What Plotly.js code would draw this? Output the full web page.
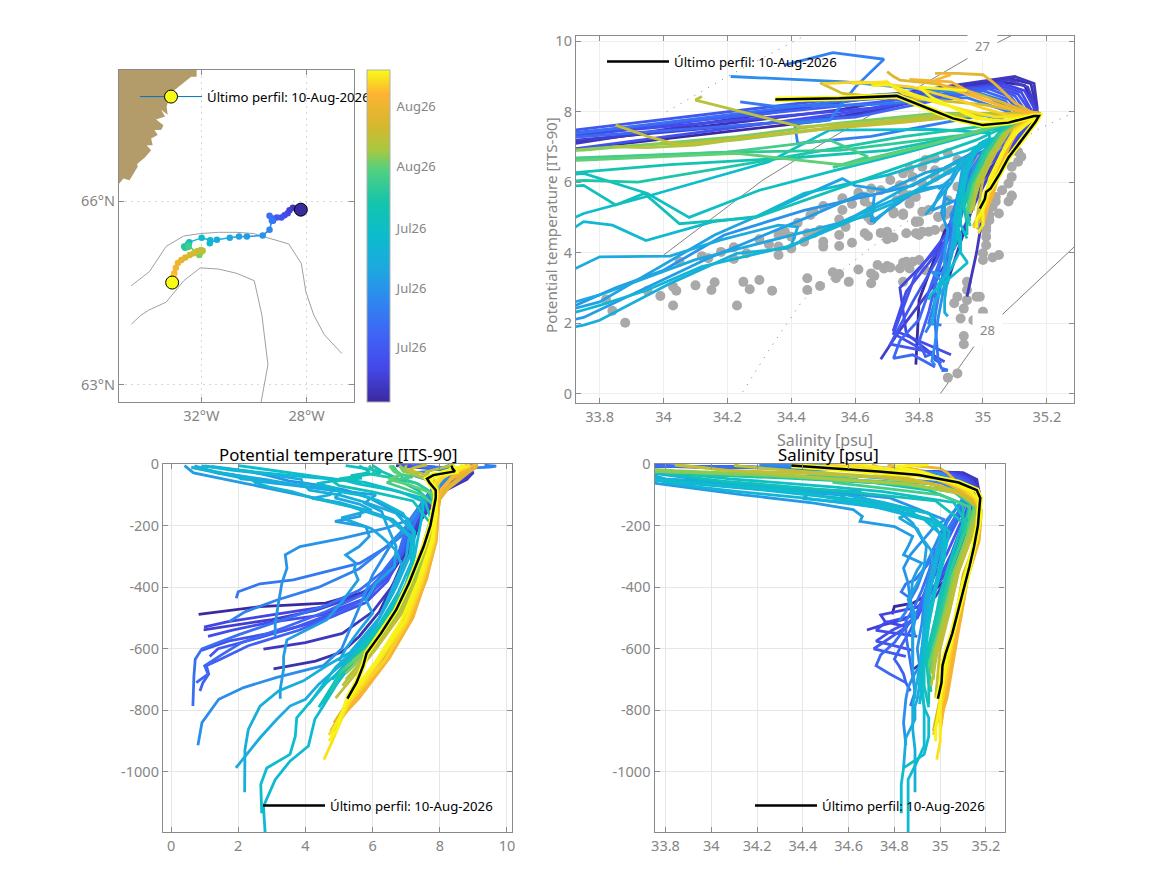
<!DOCTYPE html>
<html>
<head>
<meta charset="utf-8">
<script src="https://cdn.plot.ly/plotly-3.0.1.min.js"></script>
<style>html,body{margin:0;padding:0;background:#fff}</style>
</head>
<body>
<div id="graph" style="width:1167px;height:875px"></div>
<script>
const legendText = 'Último perfil: 10-Aug-2026';

// colormap, bottom to top of the colorbar
const colorStops = [0, 0.1, 0.2, 0.3, 0.4, 0.5, 0.6, 0.7, 0.76, 0.83, 0.93, 1];
const colorValues = ['#3a2a9e', '#4447e8', '#3f63f5', '#2f85f0', '#1da8e0', '#0cbcce',
  '#14c4ac', '#52d080', '#a8c840', '#d4b82e', '#fdb432', '#f9fb14'];

const cbTickDays = [5.05, 10.63, 16.2, 21.95, 27.56];
const cbTickText = ['Jul26', 'Jul26', 'Jul26', 'Aug26', 'Aug26'];

// map
const coastLon = [-32.18, -32.18, -32.39, -32.71, -33.03, -33.22, -33.32, -33.28, -33.53, -33.38, -33.72, -33.44, -33.53, -33.78, -33.66, -33.91, -33.85, -34.08, -33.91, -34.13, -34.48, -34.63, -34.5, -34.42, -34.73, -34.96, -35.11, -35.3, -35.3, -32.18];
const coastLat = [68.3, 68.03, 68.03, 67.92, 67.81, 67.70, 67.54, 67.41, 67.49, 67.38, 67.33, 67.24, 67.16, 67.16, 67.08, 67.02, 66.91, 66.91, 66.83, 66.72, 66.59, 66.64, 66.75, 66.56, 66.34, 66.37, 66.29, 66.26, 68.3, 68.3];
const iso1Lon = [-34.66, -33.97, -33.34, -32.67, -32.04, -31.34, -30.65, -30.01, -29.63, -28.68, -28.2, -28.03, -27.73, -27.33, -26.66];
const iso1Lat = [64.62, 64.85, 65.26, 65.43, 65.47, 65.49, 65.49, 65.47, 65.42, 65.30, 64.98, 64.52, 64.14, 63.82, 63.51];
const iso2Lon = [-34.66, -34.32, -34.0, -33.34, -32.67, -32.04, -31.34, -30.65, -29.99, -29.7, -29.47, -29.78];
const iso2Lat = [63.99, 64.13, 64.22, 64.35, 64.70, 64.91, 64.89, 64.82, 64.70, 64.14, 63.33, 62.6];

const trackDay = [0, 0.7, 1.4, 2.1, 2.8, 3.5, 4.2, 5, 5.8, 6.6, 7.4, 8.2, 9.5, 10.5, 11.3, 12, 12.8, 13.5, 14.2, 14.9, 15.7, 16.6, 17.4, 18.1, 18.8, 19.5, 20.3, 21, 22.5, 23, 24, 24.7, 25, 25.5, 26, 26.5, 27, 27.6, 28.2, 28.8, 29.4, 30, 31];
const trackLon = [-28.22, -28.37, -28.52, -28.65, -28.72, -28.84, -28.96, -29.13, -29.28, -29.32, -29.41, -29.32, -29.41, -29.67, -30.27, -30.57, -30.92, -31.41, -31.68, -31.66, -31.99, -32.46, -32.48, -32.52, -32.65, -32.62, -32.5, -32.48, -32.08, -32.03, -31.95, -32.02, -32.16, -32.29, -32.44, -32.61, -32.76, -32.89, -32.97, -33.03, -33.06, -33.09, -33.11];
const trackLat = [65.86, 65.87, 65.89, 65.85, 65.80, 65.77, 65.73, 65.73, 65.68, 65.72, 65.76, 65.68, 65.53, 65.44, 65.42, 65.42, 65.40, 65.37, 65.31, 65.36, 65.40, 65.33, 65.29, 65.29, 65.26, 65.24, 65.25, 65.27, 65.12, 65.16, 65.19, 65.2, 65.18, 65.15, 65.12, 65.08, 65.04, 64.99, 64.91, 64.82, 64.77, 64.71, 64.67];

// sigma lines on the T-S panel
const sig27Sal = [34.0, 34.311, 34.53, 34.955, 35.043, 35.096, 35.13];
const sig27Tmp = [3.93, 6.06, 7.28, 9.53, 9.95, 10.18, 10.35];
const sig28Sal = [34.867, 34.977, 35.058, 35.29];
const sig28Tmp = [0.0, 1.40, 2.22, 4.2];
const sigLowSal = [34.248, 34.33, 34.436, 34.693, 34.80, 35.168, 35.29];
const sigLowTmp = [0.05, 1.23, 2.65, 4.44, 5.12, 7.48, 8.0];
const sigHighSal = [34.01, 34.2, 34.44, 34.5];
const sigHighTmp = [8.0, 9.0, 10.15, 10.4];

// climatology dots on the T-S panel
const climSal = [33.88, 33.84, 33.82, 33.95, 33.99, 34.03, 34.03, 34.04, 34.05, 34.10, 34.12, 34.14, 34.16, 34.15, 34.18, 34.22, 34.22, 34.23, 34.25, 34.26, 34.27, 34.30, 34.30, 34.33, 34.34, 34.36, 34.36, 34.36, 34.38, 34.40, 34.40, 34.42, 34.44, 34.45, 34.45, 34.45, 34.49, 34.46, 34.47, 34.47, 34.49, 34.50, 34.50, 34.50, 34.53, 34.54, 34.55, 34.58, 34.55, 34.56, 34.59, 34.56, 34.55, 34.55, 34.57, 34.59, 34.61, 34.63, 34.63, 34.61, 34.65, 34.65, 34.66, 34.67, 34.63, 34.64, 34.64, 34.65, 34.69, 34.70, 34.71, 34.74, 34.75, 34.76, 34.78, 34.80, 34.77, 34.75, 34.82, 34.68, 34.70, 34.70, 34.72, 34.76, 34.79, 34.80, 34.81, 34.83, 34.85, 34.88, 34.89, 34.80, 34.79, 34.86, 34.89, 34.91, 34.92, 34.75, 34.72, 34.73, 34.83, 34.75, 34.77, 34.89, 34.94, 34.99, 35.01, 35.01, 35.0, 35.03, 35.05, 35.0, 35.09, 35.08, 35.04, 35.02, 35.01, 34.86, 34.88, 35.0, 34.95, 34.95, 34.94, 34.91, 34.92, 34.95, 34.98, 34.99, 35.0, 34.93, 34.97, 34.94, 34.94, 34.89, 34.92, 35.11, 35.12, 35.11, 35.09, 35.09, 35.08, 35.06, 35.05, 35.03, 35.06, 35.01, 34.98, 34.97, 34.95, 34.92, 34.89, 34.85, 34.82, 34.81, 34.85, 34.89, 34.77, 34.75, 34.78, 34.81, 34.85, 34.71, 34.68, 34.74, 34.65, 35.01, 34.95, 34.92, 35.04, 35.09, 34.75, 34.79, 34.77, 34.72, 34.75, 34.65, 34.64, 34.65, 34.90, 34.91, 34.88, 34.86, 34.81, 34.79, 35.03, 35.05, 35.02, 35.01];
const climTmp = [2.01, 2.35, 2.67, 2.92, 2.77, 2.5, 3.03, 2.92, 3.74, 3.07, 3.9, 3.84, 3.16, 2.94, 4.02, 4.15, 3.82, 2.5, 3.17, 3.98, 2.96, 3.22, 4.38, 4.23, 2.92, 3.93, 4.17, 4.5, 4.59, 4.45, 4.12, 4.85, 4.31, 4.55, 3.27, 2.94, 3.05, 5.07, 5.16, 4.55, 4.64, 5.32, 4.31, 4.17, 3.44, 3.27, 3.39, 3.17, 4.94, 5.54, 5.38, 5.21, 4.5, 4.19, 4.73, 4.28, 5.7, 5.59, 5.45, 3.52, 3.41, 3.13, 3.34, 3.65, 4.55, 4.47, 5.07, 4.92, 3.55, 3.62, 3.58, 3.55, 3.71, 3.74, 3.74, 3.79, 3.55, 3.17, 3.5, 4.56, 4.59, 4.38, 4.43, 4.55, 4.55, 4.5, 4.59, 4.59, 4.64, 4.69, 4.59, 4.88, 4.88, 5.02, 5.11, 5.11, 5.11, 5.07, 5.16, 5.49, 5.21, 5.87, 5.63, 5.49, 5.68, 4.78, 4.45, 4.21, 3.79, 3.86, 3.93, 4.88, 5.62, 5.45, 5.45, 5.07, 4.73, 3.84, 3.84, 3.98, 3.17, 2.94, 2.41, 2.56, 2.75, 2.65, 2.75, 2.75, 2.32, 2.13, 2.08, 1.63, 1.4, 0.45, 0.57, 6.86, 6.72, 6.58, 6.44, 6.15, 5.96, 5.77, 7.19, 7.05, 7.0, 6.82, 6.72, 6.58, 6.44, 6.63, 6.82, 6.67, 6.63, 6.44, 6.34, 6.34, 6.39, 6.25, 6.15, 5.96, 6.15, 6.06, 5.77, 5.91, 5.82, 6.15, 6.15, 5.87, 5.58, 5.6, 5.68, 5.58, 5.39, 5.11, 5.11, 5.3, 5.01, 4.92, 5.2, 5.06, 5.06, 5.01, 5.16, 4.87, 5.3, 5.11, 4.92, 4.63];

// profiles, oldest first: day, depth [m], potential temperature, salinity
const profileDay = [0, 0.7, 1.4, 2.1, 2.8, 3.5, 4.2, 5, 5.8, 6.6, 7.4, 8.2, 9, 10, 10.6, 11.3, 12, 12.4, 12.8, 13.5, 14.2, 15, 15.7, 16.6, 17.4, 18.1, 19, 20, 21, 22, 22.6, 23, 23.7, 24.3, 24.9, 25.5, 26.5, 27.2, 28, 28.6, 29.7, 30.2, 30.6, 30.8];
const profileDepth = [
  [-5, -15, -28, -50, -80, -105, -181, -289, -365, -414, -452, -463, -488],
  [-5, -15, -28, -50, -90, -180, -290, -380, -480, -560, -610, -640, -665],
  [-5, -15, -28, -50, -90, -180, -290, -380, -480, -550, -580, -601],
  [-5, -15, -30, -50, -90, -180, -290, -370, -430, -475, -505, -525, -539],
  [-5, -15, -30, -50, -90, -180, -280, -360, -420, -465, -490, -512, -530],
  [-5, -15, -30, -50, -90, -180, -280, -370, -440, -490, -515, -540, -560],
  [-5, -15, -30, -50, -90, -190, -290, -380, -450, -500, -540, -575, -605],
  [-5, -15, -30, -50, -90, -190, -290, -370, -440, -490, -530, -565, -600, -625],
  [-5, -15, -30, -50, -90, -190, -280, -360, -430, -490, -540, -590, -634, -655, -682, -710, -737],
  [-5, -15, -30, -50, -90, -190, -280, -360, -425, -480, -530, -580, -620, -655, -682, -710],
  [-5, -15, -30, -50, -90, -190, -280, -350, -410, -460, -510, -555, -600, -634, -690, -740, -786],
  [-4, -10, -20, -35, -60, -110, -203, -257, -322, -376, -389, -415, -436],
  [-4, -7, -10, -14, -18, -24, -30, -40, -60, -100, -180, -260, -340, -400, -440, -480, -512],
  [-3, -8, -15, -30, -60, -110, -190, -270, -360, -440, -520, -600, -655, -693, -726, -764, -840, -913],
  [-8, -25, -40, -55, -70, -85, -110, -181, -208, -241, -268, -295, -338, -387, -450, -520, -560],
  [-5, -29, -62, -100, -127, -148, -170, -186, -203, -235, -268, -295, -322, -344, -376, -441, -506, -544, -571, -625, -666, -732, -762],
  [-6, -30, -56, -80, -100, -115, -127, -154, -192, -268, -333, -387, -441, -485, -540, -600, -640],
  [-8, -30, -50, -70, -90, -110, -130, -150, -175, -210, -240, -280, -340, -420, -520, -620, -700],
  [-6, -20, -35, -50, -60, -72, -85, -100, -112, -125, -150, -180, -230, -300, -400, -500, -600, -666, -715, -764, -786, -829, -889, -987],
  [-10, -30, -38, -48, -58, -70, -85, -100, -125, -160, -220, -300, -400, -500, -612, -655, -704, -737, -786, -862, -927, -1066],
  [-12, -35, -45, -60, -75, -90, -110, -140, -180, -240, -320, -420, -520, -600, -660, -720, -780],
  [-6, -25, -42, -50, -56, -64, -78, -90, -102, -120, -160, -220, -320, -420, -530, -645, -715, -786, -829, -916, -965, -1025, -1112, -1195],
  [-5, -25, -40, -52, -65, -85, -110, -150, -210, -300, -410, -520, -600, -655, -710, -791, -824, -884, -943, -987, -1041, -1134],
  [-5, -18, -28, -38, -48, -60, -75, -90, -125, -200, -320, -440, -560, -650, -720, -790],
  [-6, -18, -28, -38, -46, -56, -70, -90, -120, -190, -300, -420, -540, -640, -720, -780],
  [-5, -15, -25, -35, -45, -60, -85, -130, -220, -340, -460, -570, -650, -710],
  [-5, -14, -24, -34, -46, -62, -85, -130, -220, -340, -470, -590, -670, -740],
  [-5, -14, -24, -36, -48, -64, -90, -135, -220, -340, -470, -590, -680],
  [-5, -14, -24, -34, -42, -50, -60, -78, -100, -140, -230, -350, -470, -590, -670],
  [-5, -14, -24, -36, -50, -68, -95, -140, -230, -350, -480, -600, -660],
  [-5, -14, -24, -36, -50, -65, -95, -140, -230, -350, -480, -600, -640],
  [-5, -14, -22, -34, -48, -64, -95, -140, -230, -350, -480, -600, -680],
  [-4, -12, -22, -34, -48, -64, -95, -145, -230, -350, -480, -600, -700],
  [-2, -5, -12, -26, -42, -62, -95, -145, -230, -350, -480, -600, -720],
  [-3, -10, -20, -30, -44, -64, -95, -145, -230, -350, -480, -600, -760],
  [-3, -8, -16, -28, -45, -70, -110, -150, -240, -360, -490, -620, -760, -867],
  [-3, -7, -12, -22, -40, -70, -110, -150, -240, -360, -490, -620, -750, -840],
  [-3, -8, -14, -28, -50, -80, -115, -155, -240, -370, -500, -630, -760, -870],
  [-3, -8, -18, -32, -50, -80, -115, -155, -250, -370, -500, -630, -760, -830],
  [-3, -8, -18, -32, -50, -80, -115, -155, -250, -380, -510, -640, -770, -860],
  [-3, -8, -16, -28, -45, -70, -110, -155, -250, -380, -510, -640, -770, -880],
  [-3, -8, -14, -24, -40, -60, -85, -120, -160, -250, -380, -510, -640, -770, -900, -960],
  [-3, -8, -16, -28, -42, -60, -85, -120, -160, -250, -380, -510, -640, -770, -880],
  [-3, -7, -14, -26, -40, -58, -85, -120, -160, -250, -380, -510, -640, -770, -860, -900]
];
const profileTemp = [
  [6.7, 7.75, 8.85, 8.75, 8.2, 7.75, 7.35, 6.95, 6.5, 5.8, 4.6, 2.65, 0.82],
  [6.9, 8.05, 8.95, 8.8, 8.0, 7.4, 7.0, 6.65, 6.2, 5.6, 5.1, 4.3, 3.05],
  [6.85, 8.2, 9.0, 8.8, 8.1, 7.45, 7.05, 6.7, 6.0, 5.1, 4.0, 2.75],
  [7.05, 7.9, 8.9, 8.7, 8.0, 7.4, 6.9, 6.4, 5.5, 4.3, 3.0, 1.8, 0.97],
  [7.1, 8.35, 8.8, 8.6, 7.95, 7.35, 6.9, 6.5, 5.8, 4.5, 3.0, 1.7, 0.98],
  [7.25, 8.1, 8.75, 8.55, 7.9, 7.3, 6.9, 6.45, 5.7, 4.5, 2.9, 1.8, 1.1],
  [6.8, 8.0, 8.7, 8.5, 7.85, 7.25, 6.85, 6.45, 5.8, 4.7, 3.4, 1.7, 0.9],
  [7.35, 8.45, 8.7, 8.45, 7.8, 7.2, 6.9, 6.4, 5.7, 4.7, 3.7, 2.6, 1.4, 1.15],
  [7.25, 8.25, 8.65, 8.4, 7.8, 7.2, 6.9, 6.4, 5.9, 4.9, 3.8, 2.3, 1.47, 1.05, 1.12, 0.95, 0.86],
  [7.2, 7.85, 8.6, 8.35, 7.75, 7.15, 6.85, 6.3, 5.7, 4.6, 3.4, 2.1, 1.5, 1.0, 1.1, 0.75],
  [7.3, 8.3, 8.55, 8.3, 7.7, 7.05, 6.8, 6.3, 5.6, 4.6, 3.2, 2.0, 0.92, 0.72, 0.68, 0.66, 0.65],
  [8.28, 8.15, 8.2, 8.4, 8.0, 7.6, 7.2, 6.6, 5.62, 3.64, 2.65, 2.0, 1.94],
  [9.33, 9.68, 9.49, 8.7, 7.76, 7.67, 7.1, 7.3, 7.9, 7.65, 7.2, 6.5, 5.6, 4.4, 3.2, 2.2, 1.73],
  [9.0, 8.85, 8.6, 8.5, 8.1, 7.6, 7.1, 6.5, 6.0, 5.7, 5.4, 5.08, 4.53, 3.15, 2.16, 1.42, 0.92, 0.8],
  [1.2, 2.4, 3.0, 3.5, 4.5, 5.2, 5.9, 7.1, 6.4, 5.13, 3.84, 3.4, 3.45, 3.3, 3.2, 3.1, 3.1],
  [0.4, 0.67, 2.16, 3.84, 5.0, 5.67, 5.62, 4.88, 5.8, 5.9, 5.6, 5.2, 5.5, 5.45, 5.57, 5.13, 4.63, 3.94, 3.45, 3.35, 3.35, 3.25, 3.25],
  [0.7, 1.4, 2.6, 4.5, 6.1, 5.9, 5.77, 6.27, 6.4, 6.7, 6.65, 6.1, 5.8, 6.0, 5.6, 5.2, 5.0],
  [0.7, 1.5, 2.8, 3.8, 5.07, 4.88, 5.6, 5.97, 5.07, 5.97, 6.3, 6.7, 6.9, 6.6, 6.1, 5.4, 4.8],
  [1.0, 1.8, 3.0, 3.88, 3.9, 4.36, 4.78, 4.73, 4.2, 5.0, 5.8, 6.6, 7.1, 7.0, 6.6, 6.2, 5.6, 4.93, 4.4, 4.0, 3.54, 3.15, 2.65, 1.93],
  [0.6, 1.4, 1.94, 2.08, 3.12, 3.98, 4.12, 5.0, 5.8, 6.7, 7.2, 7.1, 6.7, 6.2, 5.33, 4.63, 3.94, 3.2, 2.65, 2.3, 2.2, 2.19],
  [0.62, 1.9, 2.37, 2.5, 2.93, 3.6, 4.2, 5.4, 6.5, 7.15, 7.15, 6.75, 6.2, 5.5, 4.9, 4.5, 4.1],
  [0.9, 2.4, 4.0, 4.88, 4.78, 4.34, 4.88, 5.02, 5.68, 6.2, 6.9, 7.25, 7.2, 6.9, 6.2, 5.4, 4.93, 4.53, 4.28, 4.09, 3.54, 3.1, 2.75, 2.8],
  [2.0, 3.4, 4.3, 5.11, 5.6, 6.58, 7.48, 7.5, 7.4, 7.25, 6.95, 6.35, 5.8, 5.2, 4.63, 4.0, 3.74, 3.7, 3.54, 2.85, 2.67, 2.7],
  [5.2, 6.0, 6.25, 5.68, 5.0, 5.77, 6.34, 6.82, 7.57, 7.8, 7.4, 6.8, 6.0, 5.2, 4.8, 4.4],
  [5.6, 5.8, 5.91, 5.35, 5.68, 4.82, 5.0, 5.96, 7.2, 7.7, 7.4, 6.85, 6.1, 5.3, 4.85, 4.5],
  [6.0, 6.15, 6.29, 6.5, 6.7, 6.9, 7.35, 7.8, 7.7, 7.35, 6.75, 6.0, 5.3, 4.9],
  [5.9, 5.95, 6.05, 6.0, 6.63, 7.29, 7.65, 7.85, 7.7, 7.35, 6.75, 5.9, 5.1, 4.75],
  [6.55, 6.6, 6.67, 6.85, 6.9, 7.35, 7.7, 7.9, 7.7, 7.35, 6.8, 6.0, 5.0],
  [6.6, 6.65, 6.72, 6.85, 7.2, 6.72, 6.42, 6.9, 7.45, 7.9, 7.7, 7.35, 6.8, 6.0, 5.1],
  [6.5, 6.55, 6.63, 6.82, 6.48, 7.1, 7.76, 7.9, 7.7, 7.35, 6.75, 5.9, 5.2],
  [6.8, 6.85, 6.91, 7.29, 7.67, 7.95, 7.95, 7.9, 7.7, 7.35, 6.75, 5.85, 5.4],
  [6.8, 6.9, 7.0, 7.2, 7.55, 7.85, 7.95, 7.9, 7.72, 7.38, 6.8, 5.95, 5.2],
  [7.0, 6.98, 7.05, 7.3, 7.55, 7.9, 7.95, 7.9, 7.72, 7.4, 6.85, 6.0, 5.2],
  [8.43, 8.33, 8.1, 7.57, 7.76, 7.9, 7.95, 7.9, 7.75, 7.42, 6.85, 6.0, 5.1],
  [7.62, 7.3, 7.05, 7.45, 7.7, 7.88, 7.95, 7.9, 7.78, 7.45, 6.9, 6.1, 4.9],
  [8.82, 8.7, 8.52, 8.4, 8.33, 8.2, 8.0, 7.95, 7.85, 7.55, 7.0, 6.25, 5.35, 4.75],
  [9.14, 9.0, 8.9, 8.8, 8.6, 8.3, 8.0, 7.95, 7.88, 7.6, 7.1, 6.4, 5.4, 4.85],
  [9.09, 9.09, 9.05, 8.85, 8.6, 8.25, 8.0, 7.95, 7.9, 7.62, 7.15, 6.45, 5.5, 4.8],
  [8.92, 8.9, 8.85, 8.6, 8.35, 8.1, 7.95, 7.95, 7.9, 7.6, 7.2, 6.5, 5.6, 5.0],
  [9.05, 8.9, 8.7, 8.5, 8.3, 8.05, 7.95, 7.9, 7.85, 7.55, 7.1, 6.4, 5.45, 4.8],
  [8.8, 8.85, 8.7, 8.35, 8.1, 7.9, 7.9, 7.9, 7.85, 7.5, 7.05, 6.35, 5.35, 4.7],
  [8.8, 8.85, 8.7, 8.52, 8.05, 7.85, 7.85, 7.85, 7.88, 7.8, 7.45, 7.0, 6.2, 5.3, 4.8, 4.55],
  [8.74, 8.76, 8.5, 8.15, 7.85, 7.7, 7.8, 7.9, 7.9, 7.8, 7.4, 6.95, 6.15, 5.25, 4.75],
  [8.6, 8.7, 8.4, 8.05, 7.8, 7.75, 7.85, 7.9, 7.9, 7.75, 7.35, 6.85, 6.1, 5.2, 4.95, 4.7]
];
const profileSal = [
  [33.5, 34.5, 35.05, 35.13, 35.16, 35.16, 35.13, 35.08, 35.04, 34.97, 34.88, 34.8, 34.79],
  [33.5, 34.55, 35.08, 35.15, 35.17, 35.14, 35.09, 35.05, 35.0, 34.98, 34.96, 34.93, 34.885],
  [33.55, 34.5, 35.1, 35.16, 35.17, 35.14, 35.1, 35.06, 35.02, 35.0, 34.98, 34.95],
  [33.55, 34.6, 35.08, 35.14, 35.17, 35.13, 35.08, 35.03, 34.98, 34.92, 34.84, 34.74, 34.68],
  [33.55, 34.62, 35.06, 35.13, 35.17, 35.12, 35.07, 35.02, 34.96, 34.9, 34.74, 34.76, 34.86],
  [33.6, 34.65, 35.05, 35.12, 35.16, 35.11, 35.06, 35.0, 34.93, 34.9, 34.76, 34.72, 34.9],
  [33.6, 34.6, 35.04, 35.11, 35.16, 35.1, 35.05, 34.99, 34.93, 34.9, 34.79, 34.72, 34.88],
  [33.6, 34.62, 35.03, 35.1, 35.15, 35.09, 35.03, 34.97, 34.94, 34.9, 34.85, 34.78, 34.71, 34.85],
  [33.55, 34.65, 35.02, 35.09, 35.14, 35.07, 35.01, 34.97, 34.94, 34.9, 34.87, 34.83, 34.8, 34.82, 34.84, 34.85, 34.87],
  [33.6, 34.6, 35.0, 35.08, 35.14, 35.06, 35.0, 34.96, 34.93, 34.9, 34.85, 34.8, 34.74, 34.72, 34.78, 34.85],
  [33.65, 34.55, 34.98, 35.07, 35.13, 35.05, 34.98, 34.95, 34.92, 34.89, 34.85, 34.85, 34.86, 34.87, 34.88, 34.89, 34.87],
  [34.24, 34.35, 34.65, 34.95, 35.08, 35.12, 35.04, 35.0, 34.95, 34.89, 34.85, 34.83, 34.87],
  [34.38, 34.53, 34.69, 34.6, 34.52, 34.41, 34.42, 34.65, 35.0, 35.12, 35.03, 34.98, 34.93, 34.9, 34.87, 34.85, 34.82],
  [34.21, 34.57, 34.85, 35.0, 35.08, 35.1, 35.03, 34.99, 34.95, 34.93, 34.92, 34.9, 34.91, 34.88, 34.86, 34.85, 34.84, 34.85],
  [32.8, 33.7, 33.85, 34.0, 34.19, 34.44, 34.78, 35.02, 34.97, 34.93, 34.9, 34.87, 34.84, 34.86, 34.87, 34.88, 34.89],
  [32.5, 33.0, 33.75, 34.14, 34.45, 34.62, 34.66, 34.65, 34.8, 34.88, 34.86, 34.84, 34.92, 34.9, 34.88, 34.87, 34.89, 34.88, 34.88, 34.88, 34.88, 34.89, 34.89],
  [32.6, 33.3, 33.8, 34.16, 34.56, 34.6, 34.7, 34.82, 34.88, 34.94, 34.93, 34.9, 34.86, 34.89, 34.88, 34.88, 34.88],
  [32.6, 33.3, 33.8, 34.1, 34.65, 34.66, 34.75, 34.9, 34.82, 34.9, 34.92, 34.96, 34.97, 34.94, 34.93, 34.92, 34.91],
  [32.6, 33.2, 33.6, 33.8, 34.02, 34.18, 34.36, 34.42, 34.4, 34.59, 34.8, 34.96, 35.0, 34.98, 34.95, 34.94, 34.92, 34.92, 34.91, 34.9, 34.89, 34.89, 34.85, 34.84],
  [32.5, 33.4, 33.75, 33.8, 34.02, 34.23, 34.385, 34.59, 34.75, 34.95, 35.02, 34.99, 34.96, 34.94, 34.92, 34.91, 34.9, 34.89, 34.88, 34.88, 34.89, 34.89],
  [32.7, 33.55, 33.75, 33.8, 33.947, 34.12, 34.4, 34.72, 34.93, 35.02, 35.0, 34.97, 34.95, 34.93, 34.92, 34.92, 34.91],
  [32.6, 33.2, 33.6, 33.75, 33.84, 33.945, 34.155, 34.29, 34.44, 34.7, 34.95, 35.04, 35.01, 34.97, 34.94, 34.92, 34.91, 34.93, 34.93, 34.93, 34.9, 34.86, 34.86, 34.86],
  [32.6, 33.2, 33.55, 33.75, 33.95, 34.33, 34.52, 34.85, 35.02, 35.02, 34.98, 34.95, 34.94, 34.93, 34.92, 34.93, 34.95, 34.95, 34.93, 34.84, 34.83, 34.83],
  [33.2, 33.5, 33.75, 33.95, 34.08, 34.3, 34.54, 34.75, 35.06, 35.12, 35.05, 35.0, 34.96, 34.93, 34.93, 34.95],
  [33.3, 33.55, 33.75, 33.85, 33.94, 34.05, 34.29, 34.59, 34.98, 35.1, 35.05, 35.0, 34.97, 34.94, 34.95, 34.95],
  [33.4, 33.6, 33.75, 34.02, 34.42, 34.7, 34.95, 35.1, 35.1, 35.05, 35.0, 34.96, 34.94, 34.96],
  [33.45, 33.6, 33.75, 33.92, 34.33, 34.75, 35.05, 35.13, 35.1, 35.05, 35.0, 34.96, 34.95, 34.96],
  [33.45, 33.6, 33.75, 34.2, 34.55, 34.95, 35.1, 35.15, 35.11, 35.05, 35.01, 34.97, 34.95],
  [33.45, 33.6, 33.75, 34.2, 34.52, 34.64, 34.53, 34.75, 35.0, 35.13, 35.12, 35.06, 35.02, 34.98, 34.95],
  [33.45, 33.6, 33.75, 34.23, 34.57, 34.85, 35.1, 35.15, 35.12, 35.06, 35.02, 34.97, 34.95],
  [33.45, 33.6, 33.75, 34.23, 34.54, 34.85, 35.1, 35.16, 35.12, 35.06, 35.02, 34.98, 34.96],
  [33.5, 33.7, 33.84, 34.23, 34.54, 34.85, 35.1, 35.16, 35.12, 35.07, 35.02, 34.98, 34.96],
  [33.84, 33.95, 34.1, 34.3, 34.52, 34.85, 35.08, 35.17, 35.13, 35.07, 35.03, 34.98, 34.97],
  [34.12, 34.1, 34.2, 34.43, 34.75, 34.95, 35.1, 35.17, 35.14, 35.08, 35.04, 34.99, 34.96],
  [33.85, 33.95, 34.05, 34.43, 34.75, 34.95, 35.1, 35.17, 35.14, 35.08, 35.04, 35.0, 34.98],
  [34.49, 34.52, 34.56, 34.7, 34.85, 35.0, 35.12, 35.18, 35.16, 35.1, 35.07, 35.03, 35.0, 34.97],
  [34.7, 34.72, 34.74, 34.85, 34.95, 35.05, 35.14, 35.18, 35.16, 35.11, 35.08, 35.04, 35.01, 34.99],
  [34.85, 34.92, 35.0, 35.03, 35.06, 35.1, 35.15, 35.18, 35.17, 35.12, 35.09, 35.05, 35.02, 35.0],
  [34.77, 34.82, 34.9, 34.95, 35.0, 35.08, 35.15, 35.18, 35.17, 35.12, 35.09, 35.06, 35.03, 35.0],
  [34.9, 34.85, 34.88, 34.95, 35.02, 35.1, 35.16, 35.18, 35.16, 35.11, 35.08, 35.05, 35.02, 35.0],
  [34.5, 34.62, 34.78, 34.92, 35.0, 35.08, 35.15, 35.18, 35.16, 35.1, 35.07, 35.04, 35.01, 34.97],
  [34.59, 34.7, 34.72, 34.75, 34.94, 35.04, 35.12, 35.17, 35.18, 35.16, 35.1, 35.07, 35.03, 35.0, 35.0, 34.985],
  [34.65, 34.71, 34.78, 34.9, 34.98, 35.06, 35.13, 35.17, 35.18, 35.16, 35.1, 35.07, 35.03, 35.0, 35.0],
  [34.95, 34.8, 34.84, 34.92, 34.98, 35.06, 35.13, 35.17, 35.18, 35.15, 35.1, 35.06, 35.02, 35.0, 34.98, 34.98]
];

// last profile, the black line
const lastDepth = [-5, -15, -24, -36, -48, -60, -85, -110, -200, -268, -333, -387, -474, -550, -615, -655, -710, -762];
const lastTemp = [8.35, 8.38, 8.45, 7.81, 7.62, 7.69, 7.88, 7.88, 7.72, 7.52, 7.28, 7.08, 6.7, 6.25, 5.82, 5.72, 5.52, 5.25];
const lastSal = [34.35, 34.55, 34.73, 34.906, 35.0, 35.08, 35.16, 35.175, 35.165, 35.148, 35.128, 35.11, 35.08, 35.053, 35.024, 35.01, 35.006, 34.99];

const W = 1167, H = 875, DAY_MAX = 31;
const GREY = '#858585', AXIS = '#8a8a8a', FONT = '"Noto Sans", sans-serif';

function hexToRgb(hex) {
  return [1, 3, 5].map(i => parseInt(hex.substr(i, 2), 16));
}

function dayColor(day) {
  const t = Math.min(1, Math.max(0, day / DAY_MAX));
  let i = 0;
  while (i < colorStops.length - 2 && t > colorStops[i + 1]) i++;
  const f = (t - colorStops[i]) / (colorStops[i + 1] - colorStops[i]);
  const a = hexToRgb(colorValues[i]), b = hexToRgb(colorValues[i + 1]);
  return 'rgb(' + a.map((v, k) => Math.round(v + (b[k] - v) * f)).join(',') + ')';
}

function domX(a, b) { return [a / W, b / W]; }
function domY(top, bottom) { return [1 - bottom / H, 1 - top / H]; }

function axis(extra) {
  return Object.assign({
    showline: true, linecolor: AXIS, linewidth: 1.3, mirror: 'ticks',
    ticks: 'inside', ticklen: 5, tickcolor: AXIS, tickwidth: 1,
    tickfont: { family: FONT, size: 14.5, color: GREY },
    zeroline: false, tickmode: 'array'
  }, extra);
}

const data = [];

// map panel
data.push({ x: coastLon, y: coastLat, xaxis: 'x', yaxis: 'y', mode: 'lines', fill: 'toself', fillcolor: '#b39c6a', line: { width: 0 }, showlegend: false, hoverinfo: 'skip' });
[[iso1Lon, iso1Lat], [iso2Lon, iso2Lat]].forEach(iso => {
  data.push({ x: iso[0], y: iso[1], xaxis: 'x', yaxis: 'y', mode: 'lines', line: { color: '#a0a0a0', width: 1 }, showlegend: false, hoverinfo: 'skip' });
});
for (let i = 0; i < trackDay.length - 1; i++) {
  data.push({
    x: trackLon.slice(i, i + 2), y: trackLat.slice(i, i + 2), xaxis: 'x', yaxis: 'y', mode: 'lines',
    line: { color: dayColor(trackDay[i]), width: 1.5 }, showlegend: false, hoverinfo: 'skip'
  });
}
data.push({
  x: trackLon, y: trackLat, xaxis: 'x', yaxis: 'y', mode: 'markers', showlegend: false,
  marker: {
    size: 6.5, color: trackDay, cmin: 0, cmax: DAY_MAX,
    colorscale: colorStops.map((s, i) => [s, colorValues[i]]),
    colorbar: {
      thickness: 23, thicknessmode: 'pixels', len: 332, lenmode: 'pixels',
      x: 367 / W, xanchor: 'left', y: 1 - 402 / H, yanchor: 'bottom', xpad: 0, ypad: 0,
      outlinecolor: '#b0b0b0', outlinewidth: 1,
      tickmode: 'array', tickvals: cbTickDays, ticktext: cbTickText,
      ticks: 'outside', ticklen: 4, tickcolor: 'rgba(0,0,0,0)',
      tickfont: { family: FONT, size: 13, color: GREY }
    }
  }
});
data.push({
  x: trackLon.slice(0, 1), y: trackLat.slice(0, 1), xaxis: 'x', yaxis: 'y', mode: 'markers', showlegend: false,
  marker: { size: 13, color: colorValues[0], line: { color: '#000', width: 1 } }
});
data.push({
  x: trackLon.slice(-1), y: trackLat.slice(-1), xaxis: 'x', yaxis: 'y', mode: 'lines+markers', name: legendText,
  legend: 'legend', line: { color: '#0072bd', width: 1 },
  marker: { size: 13, color: '#f9fb14', line: { color: '#000', width: 1 } }
});

// T-S panel background
[[sig27Sal, sig27Tmp, 'solid'], [sig28Sal, sig28Tmp, 'solid'], [sigLowSal, sigLowTmp, '1px,7px'], [sigHighSal, sigHighTmp, '1px,7px']].forEach(c => {
  data.push({ x: c[0], y: c[1], xaxis: 'x2', yaxis: 'y2', mode: 'lines', line: { color: '#808080', width: 1, dash: c[2] }, showlegend: false, hoverinfo: 'skip' });
});
data.push({ x: climSal, y: climTmp, xaxis: 'x2', yaxis: 'y2', mode: 'markers', marker: { size: 10, color: '#a9a9a9' }, showlegend: false, hoverinfo: 'skip' });

// profiles in all three panels, oldest first
profileDay.forEach((day, i) => {
  const line = { color: dayColor(day), width: 2.8 };
  data.push({ x: profileSal[i], y: profileTemp[i], xaxis: 'x2', yaxis: 'y2', mode: 'lines', line: line, showlegend: false });
  data.push({ x: profileTemp[i], y: profileDepth[i], xaxis: 'x3', yaxis: 'y3', mode: 'lines', line: line, showlegend: false });
  data.push({ x: profileSal[i], y: profileDepth[i], xaxis: 'x4', yaxis: 'y4', mode: 'lines', line: line, showlegend: false });
});

// last profile, yellow under black
[['x2', 'y2', lastSal, lastTemp, 'legend2'], ['x3', 'y3', lastTemp, lastDepth, 'legend3'], ['x4', 'y4', lastSal, lastDepth, 'legend4']].forEach(p => {
  data.push({ x: p[2], y: p[3], xaxis: p[0], yaxis: p[1], mode: 'lines', line: { color: '#f9fb14', width: 5.5 }, showlegend: false });
  data.push({ x: p[2], y: p[3], xaxis: p[0], yaxis: p[1], mode: 'lines', name: legendText, legend: p[4], line: { color: '#000', width: 2.5 } });
});

function legendAt(px, py) {
  return {
    x: px / W, y: 1 - py / H, xanchor: 'left', yanchor: 'middle', bgcolor: 'rgba(0,0,0,0)',
    itemwidth: 62, font: { family: FONT, size: 13.2, color: '#000' }, borderwidth: 0
  };
}

const salTicks = [33.8, 34, 34.2, 34.4, 34.6, 34.8, 35, 35.2];
const salTickText = ['33.8', '34', '34.2', '34.4', '34.6', '34.8', '35', '35.2'];
const depthTicks = [0, -200, -400, -600, -800, -1000];
const depthTickText = ['0', '-200', '-400', '-600', '-800', '-1000'];
const tempTicks = [0, 2, 4, 6, 8, 10];
const tempTickText = ['0', '2', '4', '6', '8', '10'];

const gridLight = { showgrid: true, gridcolor: '#e6e6e6', gridwidth: 1 };

const layout = {
  width: W, height: H, margin: { l: 0, r: 0, t: 0, b: 0 },
  paper_bgcolor: '#fff', plot_bgcolor: 'rgba(0,0,0,0)',
  font: { family: FONT, color: GREY },
  hovermode: false,
  xaxis: axis({
    domain: domX(119, 354), range: [-35.13, -26.2], tickvals: [-32, -28], ticktext: ['32°W', '28°W'],
    showgrid: true, gridcolor: '#d8d8d8', griddash: '2px,4px', anchor: 'y'
  }),
  yaxis: axis({
    domain: domY(70, 402), range: [62.72, 68.14], tickvals: [63, 66], ticktext: ['63°N', '66°N'],
    showgrid: true, gridcolor: '#d8d8d8', griddash: '2px,4px', anchor: 'x'
  }),
  xaxis2: axis({
    domain: domX(576, 1074), range: [33.726, 35.285], tickvals: salTicks, ticktext: salTickText, anchor: 'y2',
    title: { text: 'Salinity [psu]', font: { family: FONT, size: 16, color: GREY }, standoff: 10 }
  }),
  yaxis2: axis({
    domain: domY(36, 403), range: [-0.27, 10.15], tickvals: [0, 2, 4, 6, 8, 10], ticktext: tempTickText, anchor: 'x2'
  }),
  xaxis3: axis(Object.assign({ domain: domX(163, 512), range: [-0.24, 10.15], tickvals: tempTicks, ticktext: tempTickText, anchor: 'y3' }, gridLight)),
  yaxis3: axis(Object.assign({ domain: domY(464, 832), range: [-1195, 0], tickvals: depthTicks, ticktext: depthTickText, anchor: 'x3' }, gridLight)),
  xaxis4: axis(Object.assign({ domain: domX(654.5, 1004.5), range: [33.752, 35.281], tickvals: salTicks, ticktext: salTickText, anchor: 'y4' }, gridLight)),
  yaxis4: axis(Object.assign({ domain: domY(464, 832), range: [-1195, 0], tickvals: depthTicks, ticktext: depthTickText, anchor: 'x4' }, gridLight)),
  legend: legendAt(135, 97),
  legend2: legendAt(602, 62),
  legend3: legendAt(258, 806),
  legend4: legendAt(750, 806),
  annotations: [
    { xref: 'paper', yref: 'paper', x: 337.5 / W, y: 1 - 454 / H, xanchor: 'center', yanchor: 'middle', text: 'Potential temperature [ITS-90]', showarrow: false, font: { family: FONT, size: 16.8, color: '#000' } },
    { xref: 'paper', yref: 'paper', x: 829 / W, y: 1 - 454 / H, xanchor: 'center', yanchor: 'middle', text: 'Salinity [psu]', showarrow: false, font: { family: FONT, size: 16.8, color: '#000' } },
    { xref: 'paper', yref: 'paper', x: 551 / W, y: 1 - 225 / H, xanchor: 'center', yanchor: 'middle', textangle: -90, text: 'Potential temperature [ITS-90]', showarrow: false, font: { family: FONT, size: 15.2, color: GREY } },
    { xref: 'x2', yref: 'y2', x: 34.997, y: 9.87, text: '27', showarrow: false, bgcolor: '#fff', width: 27, height: 24, font: { family: FONT, size: 13, color: GREY } },
    { xref: 'x2', yref: 'y2', x: 35.015, y: 1.8, text: '28', showarrow: false, bgcolor: '#fff', width: 27, height: 30, font: { family: FONT, size: 13, color: GREY } }
  ]
};

Plotly.newPlot('graph', data, layout, { displayModeBar: false });
</script>
</body>
</html>
